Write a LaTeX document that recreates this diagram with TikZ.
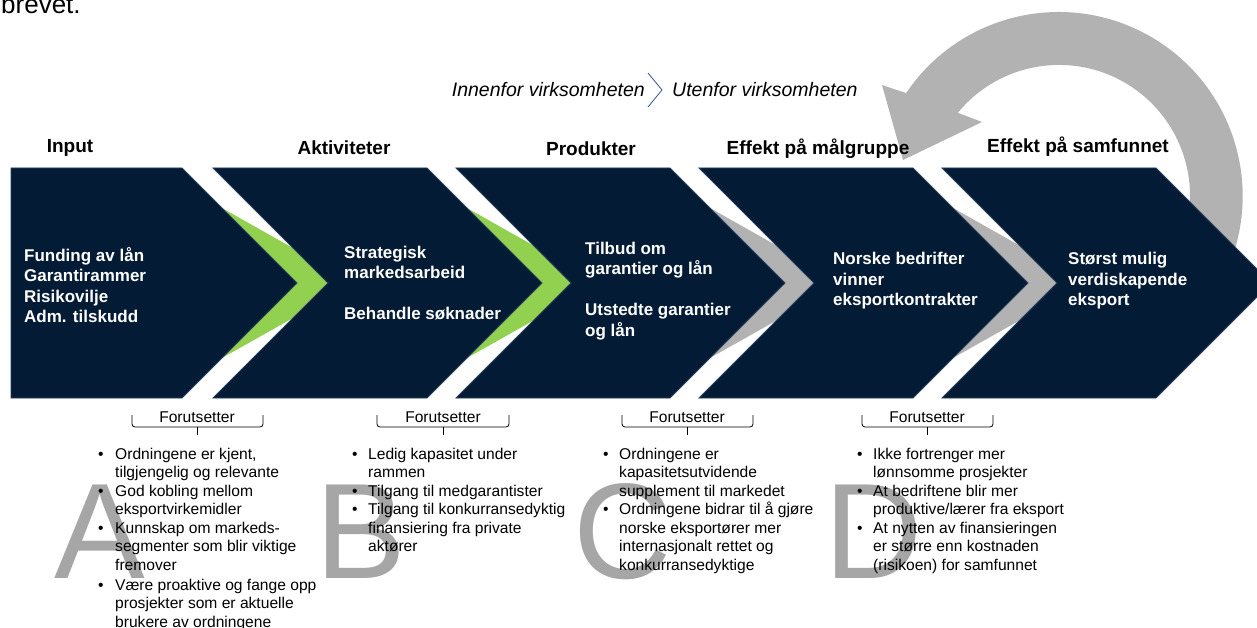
\documentclass[tikz,border=0pt]{standalone}
\usepackage{fontspec}
\setmainfont{Liberation Sans}
\usepackage{tikz}
\usetikzlibrary{positioning}

\definecolor{navy}{RGB}{3,27,52}
\definecolor{navyedge}{RGB}{38,62,92}
\definecolor{lime}{RGB}{146,208,80}
\definecolor{grey}{RGB}{178,178,178}
\definecolor{letter}{RGB}{166,166,166}
\definecolor{sepblue}{RGB}{47,84,150}

\begin{document}
\begin{tikzpicture}[x=1pt,y=-1pt,
  chev/.style={fill=navy,draw=navyedge,line width=0.8pt},
  head/.style={inner sep=0pt,font=\bfseries\fontsize{19}{22}\selectfont},
  inside/.style={anchor=west,align=left,inner sep=0pt,text=white,font=\bfseries\fontsize{17}{20.5}\selectfont},
  side/.style={inner sep=0pt,font=\itshape\fontsize{19.5}{22}\selectfont},
  forut/.style={inner sep=0pt,font=\fontsize{15.6}{18}\selectfont},
  brace/.style={line width=0.8pt,rounded corners=3pt},
  list/.style={anchor=north west,inner sep=0pt,font=\fontsize{15.6}{18.5}\selectfont},
  bigletter/.style={anchor=base west,inner sep=0pt,text=letter,font=\fontsize{136}{136}\selectfont}]
  \useasboundingbox (0,0) rectangle (1257,628);

  \node[anchor=base west,inner sep=0pt,font=\fontsize{26}{30}\selectfont] (brevet) at (1,14) {brevet.};

  % store bokstaver bak teksten
  \node[bigletter] (bigA) at (54,578) {A};
  \node[bigletter] (bigB) at (315,578) {B};
  \node[bigletter] (bigC) at (573,578) {C};
  \node[bigletter] (bigD) at (824,578) {D};

  % tilbakekobling
  \fill[grey] (1218,288) arc[start angle=30, end angle=-146, radius=184] -- (882,85) -- (903,160) -- (982,122)
    -- (957.8,112.8) arc[start angle=-140.6, end angle=30, radius=131] -- cycle;

  % mellomrom mellom pilene
  \fill[lime] (222,208) -- (300,252) -- (330,283) -- (300,314) -- (222,358) -- (297,283) -- cycle;
  \fill[lime] (467,208) -- (545,252) -- (575,283) -- (545,314) -- (467,358) -- (542,283) -- cycle;
  \fill[grey] (710,208) -- (788,252) -- (818,283) -- (788,314) -- (710,358) -- (785,283) -- cycle;
  \fill[grey] (953,208) -- (1031,252) -- (1061,283) -- (1031,314) -- (953,358) -- (1028,283) -- cycle;

  \draw[chev] (11,168) -- (182,168) -- (297,283) -- (182,398) -- (11,398) -- cycle;
  \draw[chev] (213,168) -- (427,168) -- (542,283) -- (427,398) -- (213,398) -- (328,283) -- cycle;
  \draw[chev] (456,168) -- (670,168) -- (785,283) -- (670,398) -- (456,398) -- (571,283) -- cycle;
  \draw[chev] (699,168) -- (913,168) -- (1028,283) -- (913,398) -- (699,398) -- (814,283) -- cycle;
  \draw[chev] (942,168) -- (1156,168) -- (1271,283) -- (1156,398) -- (942,398) -- (1057,283) -- cycle;

  \node[head] (hinput) at (70,148) {Input};
  \node[head] (haktiv) at (344,148) {Aktiviteter};
  \node[head] (hprod) at (591,149) {Produkter};
  \node[head] (hmaal) at (818,149) {Effekt på målgruppe};
  \node[head] (hsamf) at (1078,147) {Effekt på samfunnet};

  \node[inside] (tinput) at (24,285) {Funding av lån\\Garantirammer\\Risikovilje\\Adm. tilskudd};
  \node[inside] (taktiv) at (344,283) {Strategisk\\markedsarbeid\\[20.5pt]Behandle søknader};
  \node[inside] (tprod) at (585,291) {Tilbud om\\garantier og lån\\[20.5pt]Utstedte garantier\\og lån};
  \node[inside] (tmaal) at (833,281) {Norske bedrifter\\vinner\\eksportkontrakter};
  \node[inside] (tsamf) at (1068,281) {Størst mulig\\verdiskapende\\eksport};

  \node[side,anchor=east] (innen) at (645,90) {Innenfor virksomheten};
  \node[side,anchor=west] (uten) at (672,90) {Utenfor virksomheten};
  \draw[sepblue,line width=0.8pt] (648,73) -- (662,90) -- (648,107);

  % forutsetninger
  \node[forut] (fa) at (197,417) {Forutsetter};
  \node[forut] (fb) at (443,417) {Forutsetter};
  \node[forut] (fc) at (687,417) {Forutsetter};
  \node[forut] (fd) at (927,417) {Forutsetter};
  \draw[brace] (132,415) |- (263,427) -- (263,415);
  \draw[brace] (377,415) |- (509,427) -- (509,415);
  \draw[brace] (622,415) |- (753,427) -- (753,415);
  \draw[brace] (862,415) |- (993,427) -- (993,415);
  \draw[line width=0.8pt] (197,427) -- (197,435);
  \draw[line width=0.8pt] (443,427) -- (443,435);
  \draw[line width=0.8pt] (687,427) -- (687,435);
  \draw[line width=0.8pt] (927,427) -- (927,435);

  \node[list] (la) at (98,446) {\begin{tabular}{@{}p{17pt}@{}l@{}}
    \textbullet & Ordningene er kjent,\\ & tilgjengelig og relevante\\
    \textbullet & God kobling mellom\\ & eksportvirkemidler\\
    \textbullet & Kunnskap om markeds-\\ & segmenter som blir viktige\\ & fremover\\[1.5pt]
    \textbullet & Være proaktive og fange opp\\ & prosjekter som er aktuelle\\ & brukere av ordningene
  \end{tabular}};
  \node[list] (lb) at (352,446) {\begin{tabular}{@{}p{16pt}@{}l@{}}
    \textbullet & Ledig kapasitet under\\ & rammen\\
    \textbullet & Tilgang til medgarantister\\
    \textbullet & Tilgang til konkurransedyktig\\ & finansiering fra private\\ & aktører
  \end{tabular}};
  \node[list] (lc) at (603,446) {\begin{tabular}{@{}p{16pt}@{}l@{}}
    \textbullet & Ordningene er\\ & kapasitetsutvidende\\ & supplement til markedet\\
    \textbullet & Ordningene bidrar til å gjøre\\ & norske eksportører mer\\ & internasjonalt rettet og\\ & konkurransedyktige
  \end{tabular}};
  \node[list] (ld) at (857,446) {\begin{tabular}{@{}p{16pt}@{}l@{}}
    \textbullet & Ikke fortrenger mer\\ & lønnsomme prosjekter\\
    \textbullet & At bedriftene blir mer\\ & produktive/lærer fra eksport\\
    \textbullet & At nytten av finansieringen\\ & er større enn kostnaden\\ & (risikoen) for samfunnet
  \end{tabular}};
\end{tikzpicture}
\end{document}
